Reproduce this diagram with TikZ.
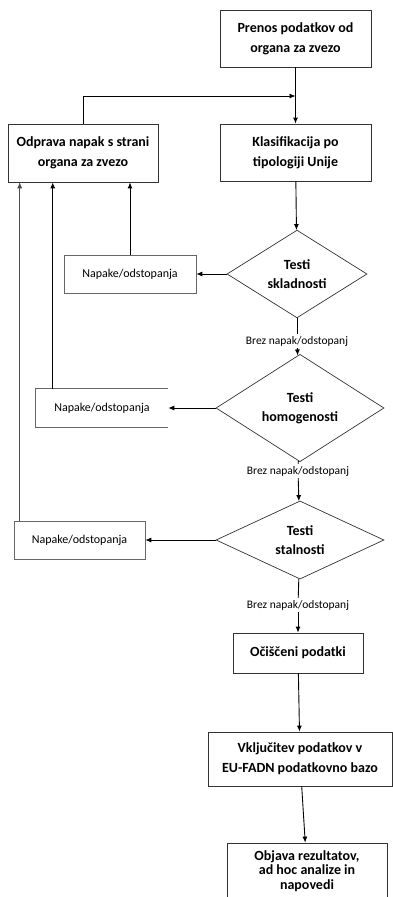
\documentclass[tikz,border=0pt]{standalone}
\usepackage{fontspec}
\setmainfont{Carlito}
\usetikzlibrary{shapes.geometric}
\usetikzlibrary{arrows.meta}

\begin{document}
\begin{tikzpicture}[x=1pt, y=-1pt, >={Latex[length=6pt,width=5pt]}]
                \tikzstyle{box} = [draw=black!80, line width=0.8pt, align=center, inner sep=0pt, font={\bfseries\fontsize{14}{20}\selectfont}]
                \tikzstyle{test} = [diamond, draw=black!80, line width=0.7pt, align=center, inner sep=0pt, font={\bfseries\fontsize{14}{19}\selectfont}]
                \tikzstyle{err} = [draw=black!60, line width=0.6pt, inner sep=0pt, minimum height=38, font={\fontsize{12}{14}\selectfont}]
                \tikzstyle{ok} = [inner sep=2pt, font={\fontsize{11.5}{13}\selectfont}]
                \tikzstyle{flow} = [line width=0.9pt, ->]
                \useasboundingbox (0,0) rectangle (393,897);
                \node[box, minimum width=151, minimum height=57] (prenos) at (295.5,38.5) {Prenos podatkov od\\organa za zvezo};
                \node[box, minimum width=151, minimum height=57] (klas) at (295.5,152.5) {Klasifikacija po\\tipologiji Unije};
                \node[box, minimum width=150, minimum height=58] (odprava) at (83,153) {Odprava napak s strani\\organa za zvezo};
                \node[test, minimum width=140, minimum height=76] (skladnost) at (297,274) {Testi\\skladnosti};
                \node[test, minimum width=168, minimum height=76] (homogenost) at (300,408) {Testi\\homogenosti};
                \node[test, minimum width=168, minimum height=76] (stalnost) at (300,540) {Testi\\stalnosti};
                \node[err, minimum width=132] (napaka1) at (130,274) {Napake/odstopanja};
                \node[err, draw=none, minimum width=132] (napaka2) at (102,408) {Napake/odstopanja};
                \node[err, minimum width=131] (napaka3) at (79.5,540) {Napake/odstopanja};
                \node[ok] (brez1) at (297,341) {Brez napak/odstopanj};
                \node[ok] (brez2) at (298,471) {Brez napak/odstopanj};
                \node[ok] (brez3) at (298,605) {Brez napak/odstopanj};
                \node[box, minimum width=130, minimum height=40] (ocisceni) at (298,653) {Očiščeni podatki};
                \node[box, minimum width=184, minimum height=54] (vkljucitev) at (300,759) {Vključitev podatkov v\\EU-FADN podatkovno bazo};
                \node[box, minimum width=160, minimum height=56, font={\bfseries\fontsize{14}{14.5}\selectfont}] (objava) at (307,871) {Objava rezultatov,\\ad hoc analize in\\napovedi};
                % open box on the right
                \draw[draw=black!60, line width=0.6pt] (napaka2.north east) -- (napaka2.north west) -- (napaka2.south west) -- (napaka2.south east);
                \coordinate (join) at (295.5,96);
                \coordinate (up2) at ([xshift=17pt]napaka2.north west);
                \coordinate (up3) at ([xshift=6pt]napaka3.north west);
                \draw[flow] (prenos) -- (klas);
                \draw[flow] (odprava.north) |- (join);
                \draw[flow] (klas) -- (skladnost);
                \draw[flow] (skladnost) -- (napaka1);
                \draw[flow] (homogenost) -- (napaka2.east);
                \draw[flow] (stalnost) -- (napaka3);
                \draw[flow] (napaka1) -- (napaka1 |- odprava.south);
                \draw[flow] (up2) -- (up2 |- odprava.south);
                \draw[flow, line width=0.5pt, draw=black!70] (up3) -- (up3 |- odprava.south);
                \draw[line width=0.9pt] (skladnost) -- (brez1);
                \draw[flow] (brez1) -- (homogenost);
                \draw[line width=0.9pt] (homogenost) -- (brez2);
                \draw[flow] (brez2) -- (stalnost);
                \draw[line width=0.9pt] (stalnost) -- (brez3);
                \draw[flow] (brez3) -- (ocisceni);
                \draw[flow] (ocisceni) -- (vkljucitev);
                \draw[flow] (vkljucitev) -- (objava);
            \end{tikzpicture}
\end{document}
